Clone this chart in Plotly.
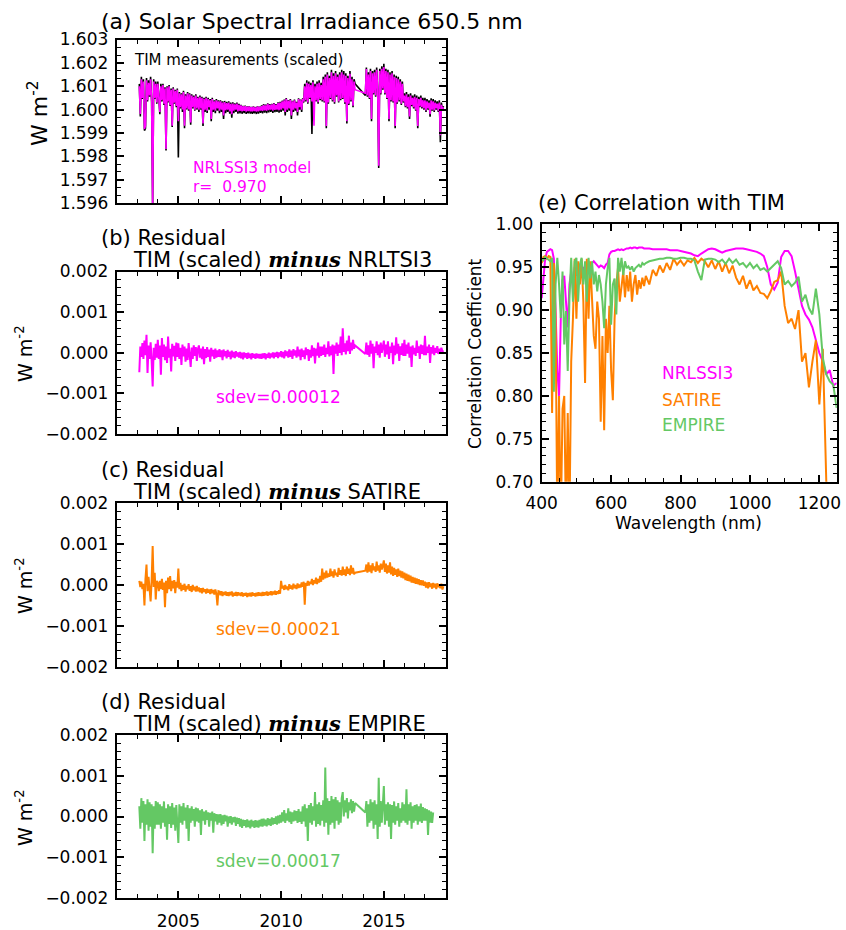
import numpy as np
import plotly.graph_objects as go

# ---------------- DATA ----------------
# Time grid (decimal years, 0.05 yr sampling); TIM record has a data gap 2013.6 -> 2014.1
years_seg1 = np.round(np.arange(2003.10, 2013.601, 0.05), 2)   # 211 samples
years_seg2 = np.round(np.arange(2014.10, 2017.901, 0.05), 2)   # 77 samples
years = np.concatenate([years_seg1, years_seg2])

# (a) irradiance at 650.5 nm, offsets from 1.600 W m-2 in micro-W m-2 (one row per year)
IRR_BASE = 1.600
tim_scaled_uW = [
    1100, -300, 1400, 450, 1300, -900, -800, 1350, 350, 1250, 550, 1400, 300, -4300, 1300, 450, 1200, 250,
    1200, 250, -200, 1100, 350, 1100, 200, 950, -1750, 1000, 300, 1050, 150, 900, -750, 950, 250, 850, 100, 900,
    -2050, 750, 50, 700, -100, 800, -800, 650, 0, 750, -50, 700, -650, 650, 50, 600, -50, 650, 0, 550,
    -100, 600, 0, 550, -700, 500, -100, 550, -150, 500, 0, 450, -500, 500, -100, 400, -150, 450, -50, 400,
    -150, 400, -100, 350, -400, 370, -150, 330, -100, 350, -180, 300, -350, 310, -150, 270, -100, 300, -180, 250,
    -160, 200, -180, 160, -150, 170, -190, 140, -160, 150, -170, 120, -180, 140, -160, 110, -190, 150, -170, 130,
    -140, 180, -160, 230, -130, 210, -150, 270, -120, 230, -100, 250, -140, 280, -110, 230, -100, 310, -130, 330,
    -100, 380, -50, 430, -250, 490, -100, 410, -50, 450, -400, 380, -100, 430, -50, 330, -250, 480, 0, 430,
    -100, 480, 300, 1100, 350, 1250, 250, 1200, 450, 1150, -1040, 1250, 400, 1100, 350, 1200, 250, 1250, 400, 1150,
    350, 1400, 300, 1500, -800, 1600, 250, 1450, 450, 1700, 350, 1550, 250, 1650, 550, 1500, 300, 1600, 400, 1700,
    450, 1650, 250, 1550, -600, 1450, 200, 1650, 350, 1400, 100, 1300, 1100,
    600, 1800, 550, 1600, 450, 1750, -500, 1650, 650, 1700, 550, 1800, 750, -2500, 1750, 650, 1850, 850,
    1960, 650, 1750, 450, 1700, -500, 1600, 350, 1650, 300, 1500, -800, 1450, 250, 1400, 350, 1300, 200, 1200, 300,
    700, 100, 750, 50, 650, -400, 700, 150, 600, 50, 650, -50, 600, -800, 550, 100, 600, 50, 500, 0,
    500, -100, 450, 0, 400, -300, 480, -50, 450, -100, 400, 0, 350, -100, 400, -1400, 300, -50, 150,
]
nrlssi3_uW = [
    1000, -190, 1300, 500, 1200, -830, -700, 1250, 400, 1150, 600, 1300, 350, -4200, 1200, 500, 1100, 300,
    1100, 300, -100, 1000, 400, 1050, 250, 900, -1690, 950, 350, 1000, 200, 850, -690, 900, 300, 800, 150, 850,
    -500, 700, 100, 650, 0, 750, -690, 600, 50, 700, 0, 650, -550, 600, 100, 550, 0, 600, 50, 500,
    0, 550, 50, 500, -600, 450, 0, 500, -50, 450, 100, 400, -400, 450, 0, 350, -50, 400, 50, 350,
    -50, 350, 0, 300, -250, 320, -30, 280, 0, 300, -80, 250, -200, 260, -50, 220, 0, 250, -80, 200,
    -60, 180, -80, 140, -50, 150, -90, 120, -60, 130, -70, 100, -80, 120, -60, 90, -90, 130, -70, 110,
    -40, 150, -60, 200, -30, 180, -50, 240, -20, 200, 0, 220, -40, 250, -10, 200, 0, 280, -30, 300,
    0, 350, 50, 400, -100, 460, 0, 380, 50, 420, -250, 350, 0, 400, 50, 300, -100, 450, 100, 400,
    0, 450, 350, 1000, 400, 1150, 300, 1100, 500, 1050, 350, 1170, -690, 1000, 400, 1100, 310, 1150, 450, 1050,
    400, 1300, 350, 1400, -700, 1500, 300, 1350, 500, 1600, 400, 1450, 310, 1550, 600, 1400, 350, 1500, 450, 1600,
    500, 1500, 300, 1450, -500, 1350, 250, 1530, 400, 1300, 170, 1200, 850,
    700, 1740, 600, 1500, 500, 1650, -400, 1550, 700, 1600, 600, 1700, 800, -2400, 1650, 700, 1750, 900,
    1820, 700, 1650, 500, 1600, -400, 1500, 400, 1550, 350, 1400, -700, 1350, 300, 1300, 400, 1200, 250, 1100, 350,
    600, 150, 650, 100, 550, -300, 600, 200, 500, 100, 550, 0, 500, -700, 450, 150, 500, 100, 400, 50,
    400, -40, 350, 50, 300, -200, 390, 0, 350, -40, 300, 50, 250, -40, 300, -1100, 200, 0, 100,
]

# (b)-(d) residuals TIM minus model, micro-W m-2 (one row per year)
resid_nrltsi3_uW = [
    -480, 150, -100, 240, -150, 300, -60, 440, -500, 180, -150, 260, -200, -830, 120, -180, 220, -120,
    320, -150, 180, -540, 360, -100, 200, -180, 150, -250, 400, -120, 100, -460, 220, -90, 170, -200, 250, -100,
    230, -150, 120, -300, 200, -90, 150, -220, 100, -180, 240, -100, -350, 130, -150, 180, -80, 140, -200, 90,
    180, -120, 100, -160, 150, -280, 90, -130, 140, -100, 80, -220, 120, -90, 70, -150, 100, -120, 60, -100,
    90, -110, 60, -180, 80, -90, 40, -140, 70, -100, 30, -160, 50, -110, 20, -130, 40, -90, 10, -120,
    20, -140, 0, -160, 10, -120, -10, -150, 0, -130, -20, -160, -10, -120, -30, -150, -20, -130, -30, -140,
    -30, -150, -20, -130, -10, -160, -30, -120, 0, -140, -20, -110, 10, -140, 0, -100, 20, -130, 10, -90,
    40, -110, 20, -140, 60, -80, 30, -120, 80, -100, 50, -150, 90, -70, 60, -120, 150, -90, 80, -180,
    100, -100, 60, -160, 130, -60, 90, -200, 70, -120, 180, -80, 120, -260, 100, -70, 250, -120, 150, -80,
    150, -50, 200, -100, 120, -30, 280, -90, 160, -60, 200, -520, 180, -20, 250, -80, 200, 0, 400, -60,
    600, 20, 230, -40, 300, 40, 420, -30, 250, 60, 320, 100, 180,
    -30, 250, -50, 180, -100, 300, -20, 220, -380, 150, 0, 280, -60, 200, -120, 250, 0, 160,
    300, -100, 200, -40, 280, -150, 150, 0, 250, -280, 180, -60, 380, -20, 220, -200, 160, -50, 230, -80,
    320, -80, 200, -20, 250, -120, 150, -350, 180, -40, 120, -80, 300, 0, 160, -150, 200, -30, 180, -60,
    420, -60, 150, 0, 200, -250, 140, -20, 180, -60, 120, 0, 160, -30, 100, 20, 120, 30, 60,
]
resid_satire_uW = [
    100, -50, 80, -100, 30, -500, 150, 500, -150, 200, -100, -400, 100, 950, -50, 300, -350, 100,
    50, -150, 100, -100, 150, -120, 60, -540, 100, -200, 180, -100, 220, -150, 100, -80, 120, -200, 80, -60,
    400, -100, 50, -150, 0, -120, 30, -160, -20, -100, 20, -140, -30, -170, 0, -130, -40, -160, -20, -150,
    -60, -180, -80, -200, -70, -170, -100, -210, -90, -190, -110, -220, -100, -200, -120, -230, -110, -210, -500, -150,
    -160, -250, -150, -270, -170, -240, -160, -260, -180, -270, -170, -250, -160, -280, -190, -260, -170, -270, -180, -250,
    -190, -270, -180, -280, -200, -260, -190, -290, -200, -270, -190, -280, -180, -260, -200, -280, -190, -270, -180, -260,
    -190, -270, -170, -260, -180, -250, -160, -260, -170, -240, -150, -250, -160, -230, -140, -240, -150, -220, -130, -210,
    100, -80, -20, -120, 0, -100, -40, -130, 20, -90, -10, -110, 30, -80, 0, -100, 40, -70, 10, -60,
    60, -40, 80, -480, 50, -20, 100, -10, 80, 30, 150, 0, 120, 40, 180, 20, 150, 60, 220, 80,
    400, 130, 300, 160, 350, 180, 280, 200, 400, 220, 330, 180, 380, 240, 300, 200, 420, 250, 360, 230,
    450, 250, 380, 220, 450, 270, 400, 240, 480, 280, 420, 260, 300,
    350, 500, 300, 550, 330, 480, 290, 530, 360, 450, 320, 570, 350, 480, 300, 520, 380, 470,
    600, 320, 520, 280, 480, 300, 550, 260, 450, 220, 420, 250, 380, 200, 400, 220, 350, 180, 330, 160,
    300, 120, 280, 100, 250, 90, 230, 60, 200, 50, 180, 30, 160, 20, 140, 0, 120, -10, 110, -20,
    80, -60, 60, -80, 70, -50, 40, -90, 50, -60, 30, -100, 40, -50, 20, -80, 30, -110, -30,
]
resid_empire_uW = [
    250, -300, 450, -150, 380, -600, 300, -200, 420, -350, 350, -250, 300, -900, 250, -300, 380, -200,
    350, -200, 300, -300, 250, -150, 370, -250, 200, -570, 300, -180, 250, -280, 330, -200, 220, -350, 280, -150,
    -650, 300, -150, 250, -200, 330, -100, 220, -300, 280, -600, 200, -150, 250, -100, 180, -250, 220, -120, 200,
    -150, 150, -450, 180, -100, 120, -200, 150, -80, 100, -250, 90, -100, 120, -400, 80, -120, 60, -200, 50,
    -150, 60, -220, 30, -180, 40, -120, 20, -250, 0, -160, 10, -200, -20, -140, -10, -230, -30, -180, -40,
    -250, -60, -280, -80, -230, -90, -270, -70, -260, -100, -290, -80, -250, -110, -280, -90, -260, -100, -270, -80,
    -240, -60, -250, -50, -220, -80, -240, -40, -210, -60, -230, -20, -200, -40, -180, 0, -200, 20, -170, 40,
    -150, 100, -120, 160, -160, 80, -100, 200, -140, 120, -180, 100, -120, 150, -100, 130, -160, 180, -130, 120,
    -180, 250, -120, 300, -250, 200, -600, 280, -150, 330, -200, 250, -100, 600, -250, 300, -180, 350, -220, 280,
    -100, 400, -250, 1200, -150, 450, -450, 380, -200, 500, -150, 420, -300, 480, -100, 400, -200, 350, -150, 450,
    600, 0, 400, 100, 450, -50, 350, 150, 420, 80, 380, 120, 330,
    100, 380, -250, 300, -150, 420, -100, 350, -300, 400, -200, 300, -550, 950, -250, 380, -150, 350,
    750, -200, 300, -100, 350, -250, 300, -550, 280, -150, 370, -200, 250, -100, 330, -250, 200, -150, 350, -100,
    300, -150, 670, -200, 300, -100, 350, -300, 250, -150, 280, -100, 300, -200, 250, -120, 320, -160, 230, -100,
    200, -100, 180, -450, 150, -150, 120, -160, 100,
]
UW = 1e-6  # micro-W m-2 -> W m-2

sdev_labels = ["sdev=0.00012", "sdev=0.00021", "sdev=0.00017"]

# (e) correlation with TIM vs wavelength
wavelength_nm = list(range(400, 701, 5)) + list(range(710, 1251, 10))
corr_nrlssi3 = [
    0.914, 0.937, 0.960, 0.968, 0.970, 0.971, 0.970, 0.960, 0.900, 0.830,
    0.800, 0.890, 0.935, 0.940, 0.910, 0.880, 0.930, 0.945, 0.925, 0.950,
    0.940, 0.950, 0.945, 0.952, 0.948, 0.950, 0.945, 0.952, 0.950, 0.955,
    0.957, 0.955, 0.953, 0.950, 0.952, 0.951, 0.949, 0.953, 0.955, 0.965,
    0.968, 0.969, 0.969, 0.970, 0.971, 0.970, 0.971, 0.970, 0.971, 0.972,
    0.972, 0.973, 0.972, 0.973, 0.973, 0.972, 0.973, 0.973, 0.973, 0.972,
    0.972,
    0.972, 0.971, 0.971, 0.971, 0.971, 0.971, 0.970, 0.970, 0.970, 0.969,
    0.968, 0.967, 0.966, 0.964, 0.963, 0.966, 0.969, 0.971, 0.972, 0.971,
    0.969, 0.967, 0.969, 0.970, 0.971, 0.972, 0.972, 0.972, 0.971, 0.970,
    0.969, 0.968, 0.966, 0.963, 0.950, 0.930, 0.924, 0.932, 0.962, 0.969,
    0.969, 0.963, 0.945, 0.925, 0.905, 0.895, 0.889, 0.880, 0.866, 0.850,
    0.840, 0.825, 0.830, 0.812, 0.815,
]
corr_satire = [
    0.955, 0.962, 0.963, 0.960, 0.963, 0.962, 0.780, 0.955, 0.890, 0.650,
    0.800, 0.650, 0.785, 0.800, 0.650, 0.780, 0.650, 0.840, 0.890, 0.960,
    0.890, 0.957, 0.930, 0.960, 0.910, 0.815, 0.960, 0.890, 0.957, 0.905,
    0.870, 0.855, 0.910, 0.890, 0.770, 0.870, 0.760, 0.890, 0.850, 0.905,
    0.830, 0.795, 0.890, 0.930, 0.950, 0.910, 0.930, 0.945, 0.915, 0.941,
    0.922, 0.945, 0.910, 0.930, 0.941, 0.918, 0.935, 0.925, 0.938, 0.928,
    0.940,
    0.930, 0.947, 0.940, 0.952, 0.944, 0.955, 0.947, 0.960, 0.953, 0.958,
    0.952, 0.958, 0.956, 0.961, 0.955, 0.960, 0.957, 0.950, 0.958, 0.948,
    0.957, 0.945, 0.955, 0.943, 0.952, 0.938, 0.930, 0.940, 0.925, 0.935,
    0.923, 0.928, 0.920, 0.919, 0.914, 0.922, 0.933, 0.935, 0.945, 0.905,
    0.885, 0.890, 0.878, 0.900, 0.840, 0.850, 0.810, 0.840, 0.865, 0.790,
    0.855, 0.700, 0.650, 0.680, 0.650,
]
corr_empire = [
    0.960, 0.958, 0.962, 0.960, 0.958, 0.957, 0.961, 0.805, 0.930, 0.961,
    0.930, 0.891, 0.945, 0.860, 0.899, 0.829, 0.914, 0.961, 0.910, 0.957,
    0.961, 0.910, 0.953, 0.961, 0.930, 0.957, 0.910, 0.961, 0.937, 0.957,
    0.930, 0.945, 0.922, 0.941, 0.930, 0.910, 0.879, 0.930, 0.949, 0.961,
    0.883, 0.930, 0.937, 0.895, 0.961, 0.945, 0.961, 0.941, 0.957, 0.949,
    0.951, 0.947, 0.951, 0.945, 0.949, 0.951, 0.953, 0.950, 0.955, 0.953,
    0.955,
    0.957, 0.958, 0.959, 0.960, 0.960, 0.961, 0.961, 0.960, 0.960, 0.961,
    0.961, 0.960, 0.960, 0.958, 0.945, 0.935, 0.959, 0.960, 0.960, 0.959,
    0.956, 0.959, 0.954, 0.960, 0.955, 0.959, 0.953, 0.955, 0.950, 0.955,
    0.949, 0.953, 0.947, 0.949, 0.945, 0.949, 0.953, 0.957, 0.949, 0.930,
    0.934, 0.928, 0.932, 0.939, 0.910, 0.918, 0.9025, 0.895, 0.925, 0.895,
    0.844, 0.825, 0.817, 0.813, 0.786,
]

assert len(years) == 288, len(years)
assert len(tim_scaled_uW) == len(years), len(tim_scaled_uW)
assert len(nrlssi3_uW) == len(years), len(nrlssi3_uW)
assert len(resid_nrltsi3_uW) == len(years), len(resid_nrltsi3_uW)
assert len(resid_satire_uW) == len(years), len(resid_satire_uW)
assert len(resid_empire_uW) == len(years) - 10, len(resid_empire_uW)
assert len(corr_nrlssi3) == len(wavelength_nm) == len(corr_satire) == len(corr_empire)

# ---------------- STYLE ----------------
MAGENTA = "#FF00FF"
ORANGE = "#FF8000"
GREEN = "rgb(100,200,100)"
TICKFONT = "DejaVu Sans"
TXTFONT = "DejaVu Sans"
W, H = 846, 930


def xd(p0, p1):
    return [p0 / W, p1 / W]


def yd(p0, p1):
    return [1 - p1 / H, 1 - p0 / H]


def px(x):
    return x / W


def py(y):
    return 1 - y / H


def axis(**kw):
    d = dict(showline=True, linecolor="black", linewidth=2, mirror="ticks",
             ticks="inside", ticklen=7, tickwidth=1.5, tickcolor="black",
             showgrid=False, zeroline=False, automargin=False,
             tickfont=dict(family=TICKFONT, size=17, color="black"))
    d.update(kw)
    return d


def minor(dt):
    return dict(ticks="inside", ticklen=4, tickwidth=1.2, tickcolor="black", dtick=dt, showgrid=False)


fig = go.Figure()
LWA = 1.6   # panel (a)
LWR = 2.0   # residual panels
# (a)
fig.add_trace(go.Scatter(x=years, y=IRR_BASE + np.array(tim_scaled_uW) * UW, mode="lines",
                         line=dict(color="black", width=LWA), xaxis="x", yaxis="y"))
fig.add_trace(go.Scatter(x=years, y=IRR_BASE + np.array(nrlssi3_uW) * UW, mode="lines",
                         line=dict(color=MAGENTA, width=LWA), xaxis="x", yaxis="y"))
# (b)-(d)
fig.add_trace(go.Scatter(x=years, y=np.array(resid_nrltsi3_uW) * UW, mode="lines",
                         line=dict(color=MAGENTA, width=LWR), xaxis="x2", yaxis="y2"))
fig.add_trace(go.Scatter(x=years, y=np.array(resid_satire_uW) * UW, mode="lines",
                         line=dict(color=ORANGE, width=LWR), xaxis="x3", yaxis="y3"))
fig.add_trace(go.Scatter(x=years[:len(resid_empire_uW)], y=np.array(resid_empire_uW) * UW, mode="lines",
                         line=dict(color=GREEN, width=LWR), xaxis="x4", yaxis="y4"))
# (e)
fig.add_trace(go.Scatter(x=wavelength_nm, y=corr_nrlssi3, mode="lines",
                         line=dict(color=MAGENTA, width=2), xaxis="x5", yaxis="y5"))
fig.add_trace(go.Scatter(x=wavelength_nm, y=corr_satire, mode="lines",
                         line=dict(color=ORANGE, width=2), xaxis="x5", yaxis="y5"))
fig.add_trace(go.Scatter(x=wavelength_nm, y=corr_empire, mode="lines",
                         line=dict(color=GREEN, width=2), xaxis="x5", yaxis="y5"))

XL, XR = 116.7, 445.5
year_axis = dict(range=[2002, 2018], tick0=2000, dtick=5, minor=minor(1))

layout = dict(
    width=W, height=H, autosize=False,
    margin=dict(l=0, r=0, t=0, b=0, pad=0, autoexpand=False),
    paper_bgcolor="white", plot_bgcolor="white", showlegend=False,
    xaxis=axis(domain=xd(XL, XR), anchor="y", showticklabels=False, **year_axis),
    yaxis=axis(domain=yd(39.5, 203), anchor="x", range=[1.596, 1.603], dtick=0.001,
               tickformat=".3f", ticklabelstandoff=3, minor=minor(0.001 / 3)),
    xaxis2=axis(domain=xd(XL, XR), anchor="y2", showticklabels=False, **year_axis),
    yaxis2=axis(domain=yd(271.5, 434), anchor="x2", range=[-0.002, 0.002], dtick=0.001,
                tickformat=".3f", ticklabelstandoff=3, minor=minor(0.0002)),
    xaxis3=axis(domain=xd(XL, XR), anchor="y3", showticklabels=False, **year_axis),
    yaxis3=axis(domain=yd(503, 667), anchor="x3", range=[-0.002, 0.002], dtick=0.001,
                tickformat=".3f", ticklabelstandoff=3, minor=minor(0.0002)),
    xaxis4=axis(domain=xd(XL, XR), anchor="y4", ticklabelstandoff=7, **year_axis),
    yaxis4=axis(domain=yd(735, 898), anchor="x4", range=[-0.002, 0.002], dtick=0.001,
                tickformat=".3f", ticklabelstandoff=3, minor=minor(0.0002)),
    xaxis5=axis(domain=xd(541.7, 836.7), anchor="y5", range=[400, 1250], tick0=400, dtick=200,
                ticklabelstandoff=5, minor=minor(50)),
    yaxis5=axis(domain=yd(224.4, 481.7), anchor="x5", range=[0.70, 1.00], dtick=0.05,
                tickformat=".2f", ticklabelstandoff=3, minor=minor(0.01)),
)
fig.update_layout(**layout)

ann = []


def text(x, y, s, size=16, color="black", xanchor="left", angle=0, family=TXTFONT):
    ann.append(dict(x=px(x), y=py(y), xref="paper", yref="paper", text=s, showarrow=False,
                    xanchor=xanchor, yanchor="middle", textangle=angle, borderpad=0,
                    font=dict(family=family, size=size, color=color)))


MINUS = "<span style=\"font-family:'DejaVu Serif'\"><b><i>minus</i></b></span>"
TS = 21  # panel title size
text(100, 21, "(a) Solar Spectral Irradiance 650.5 nm", size=22)
text(132.7, 60, "TIM measurements (scaled)", size=15)
text(191.7, 168.5, "NRLSSI3 model", size=15.5, color=MAGENTA)
text(191.7, 187, "r=  0.970", size=15.5, color=MAGENTA)

text(100, 238, "(b) Residual", size=TS)
text(132, 259, "TIM (scaled) " + MINUS + " NRLTSI3", size=TS)
text(100, 470, "(c) Residual", size=TS)
text(132, 491, "TIM (scaled) " + MINUS + " SATIRE", size=TS)
text(100, 702, "(d) Residual", size=TS)
text(132, 723, "TIM (scaled) " + MINUS + " EMPIRE", size=TS)

text(214.7, 397, sdev_labels[0], size=17, color=MAGENTA)
text(214.7, 629, sdev_labels[1], size=17, color=ORANGE)
text(214.7, 861, sdev_labels[2], size=17, color=GREEN)

ylab = "W m<sup>-2</sup>"
text(38, 113, ylab, size=22, xanchor="center", angle=-90)
text(24, 354, ylab, size=19, xanchor="center", angle=-90)
text(24, 586, ylab, size=19, xanchor="center", angle=-90)
text(24, 818, ylab, size=19, xanchor="center", angle=-90)

text(661, 203, "(e) Correlation with TIM", size=TS, xanchor="center")
text(688, 523, "Wavelength (nm)", size=17, xanchor="center")
text(475, 354, "Correlation Coefficient", size=17, xanchor="center", angle=-90)
text(660.7, 373, "NRLSSI3", size=17, color=MAGENTA)
text(660.7, 399.5, "SATIRE", size=17, color=ORANGE)
text(660.7, 424.5, "EMPIRE", size=17, color=GREEN)

fig.update_layout(annotations=ann)
fig.write_html("out.html")
